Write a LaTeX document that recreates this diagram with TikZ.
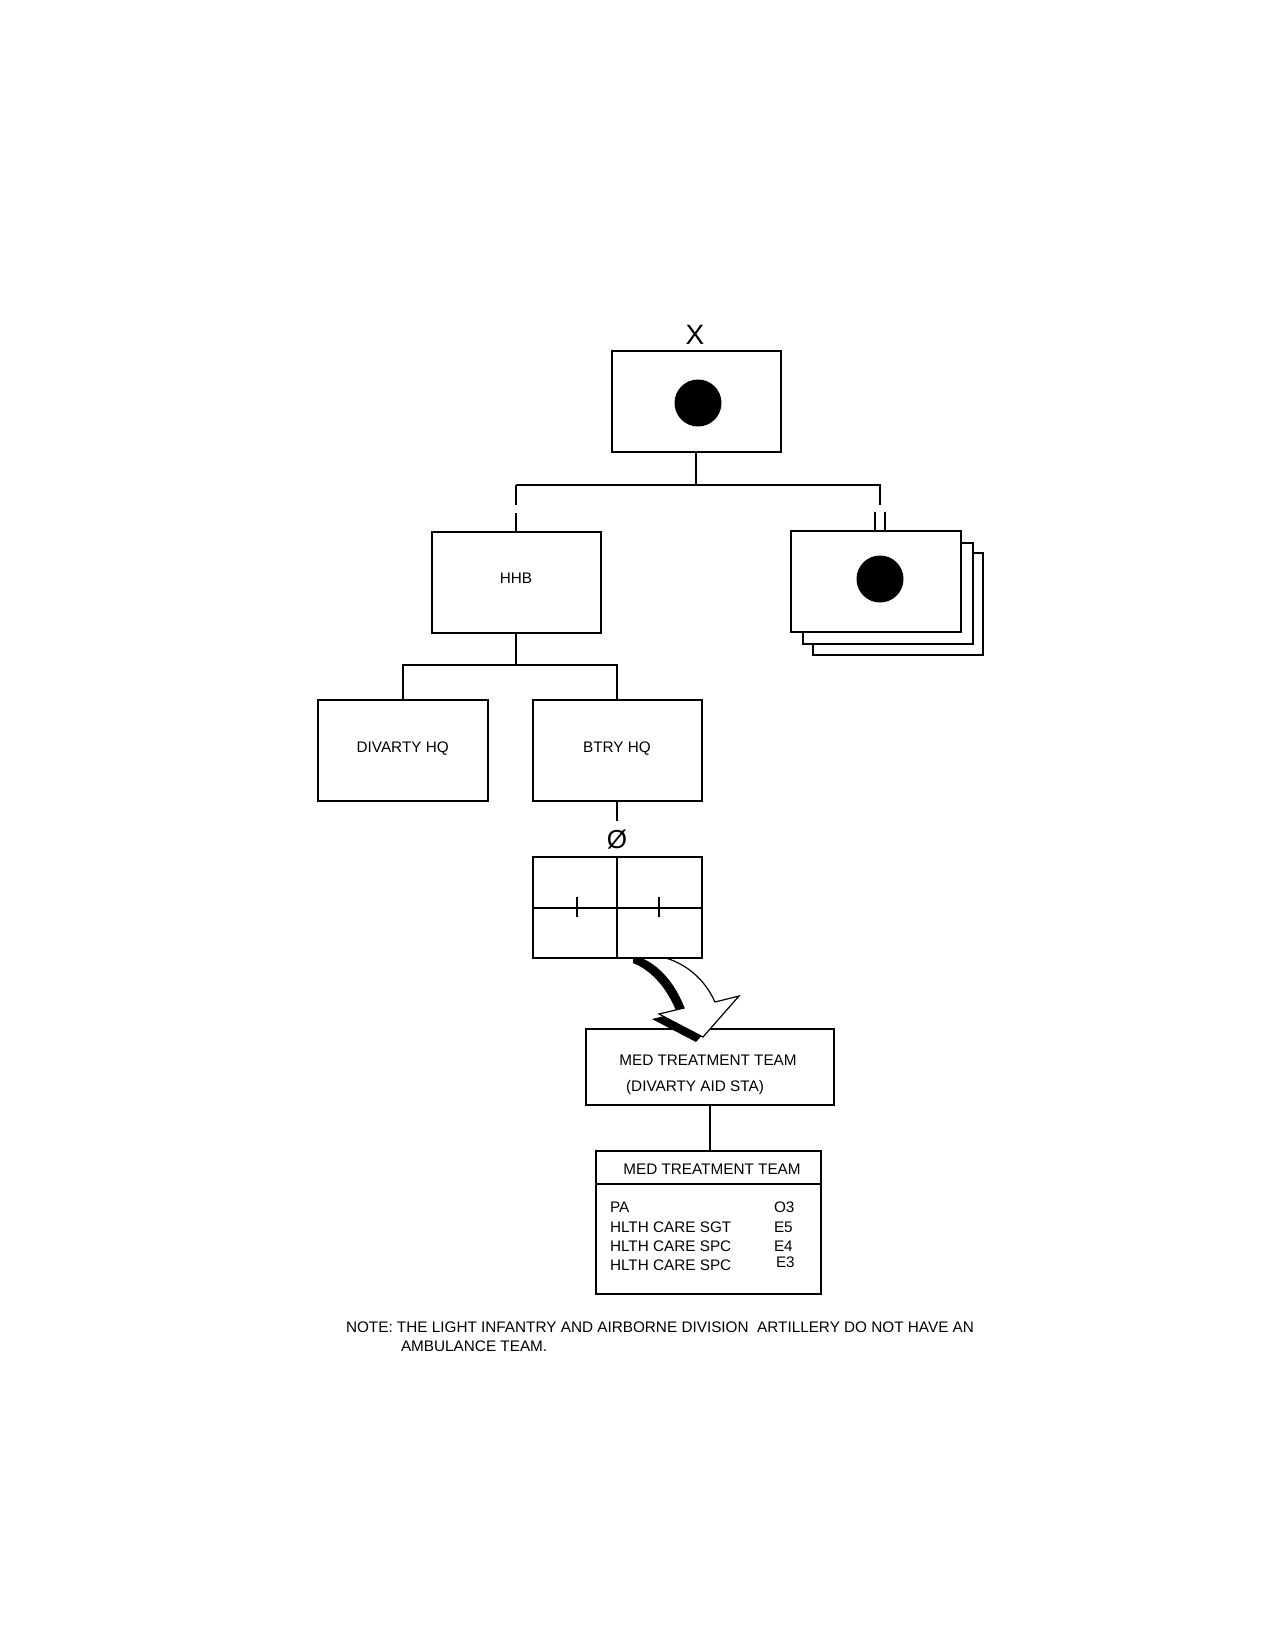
\documentclass[tikz,border=0pt]{standalone}
\usepackage{fontspec}
\setmainfont{Liberation Sans}
\newcommand\lbltext{\fontsize{7.65}{9}\selectfont}

\begin{document}
\begin{tikzpicture}[x = 0.5pt, y = -0.5pt, line width = 1pt,
  box/.style = {draw, rectangle, inner sep = 0pt, outer sep = 0pt, minimum width = 84.5pt, minimum height = 50.5pt, text height = 5.4pt, text depth = 3pt, font = \lbltext},
  dot/.style = {circle, fill, inner sep = 0pt, minimum size = 23.5pt},
  lbl/.style = {inner sep = 0pt, text height = 5.4pt, text depth = 0pt, font = \lbltext}]
\useasboundingbox (0, 0) rectangle (1281, 1650);
%\draw[very thin, color = gray](0, 0) grid[step = 100] (1281, 1650);

% brigade
\node [box] (bde) at (696, 401.5) {};
\node [dot] (bdedot) at (698, 403) {};
\node [inner sep = 0pt, font = \fontsize{14}{14}\selectfont] (bdex) at (695, 335) {X};

% battalions
\node [box, minimum width = 85pt, minimum height = 51pt] (bn3) at (898, 604) {};
\node [box, fill = white, minimum width = 85pt] (bn2) at (888, 593.4) {};
\node [box, fill = white, minimum width = 85pt] (bn) at (876, 581.5) {};
\node [dot] (bndot) at (880, 579) {};

% hhb and below
\node [box, text depth = 4pt] (hhb) at (516, 582.3) {HHB};
\node [box, minimum width = 85pt] (divarty) at (402.7, 750.5) {DIVARTY HQ};
\node [box] (btry) at (617, 750) {BTRY HQ};
\node [inner sep = 4pt, font = \fontsize{13}{13}\selectfont] (zero) at (617, 840) {Ø};

% med team
\node [box, minimum width = 124pt, minimum height = 38pt] (med) at (710, 1067) {};
\node [lbl] (medtop) at (708, 1060) {MED TREATMENT TEAM};
\node [lbl] (medsub) at (695, 1086) {(DIVARTY AID STA)};

% arrow into med team
\fill [shift = {(-7, 5)}] (640, 945) -- (640, 958) .. controls (660, 966) and (675, 985) .. (684, 1008) -- (659, 1014) -- (703, 1037) -- (739, 996) -- (715, 1002) .. controls (705, 980) and (688, 965) .. (666, 958) -- (666, 945) -- cycle;
\draw [fill = white, line width = 0.6pt] (640, 945) -- (640, 958) .. controls (660, 966) and (675, 985) .. (684, 1008) -- (659, 1014) -- (703, 1037) -- (739, 996) -- (715, 1002) .. controls (705, 980) and (688, 965) .. (666, 958) -- (666, 945) -- cycle;

% treatment section
\node [box, fill = white] (mix) at (617, 907.5) {};
\draw (mix.north) -- (mix.south);
\draw (mix.west) -- (mix.east);
\draw (577, 897) -- (577, 917);
\draw (659, 897) -- (659, 917);

% team table
\node [box, minimum width = 112.5pt, minimum height = 71.5pt] (tbl) at (708.4, 1222.5) {};
\draw (tbl.west |- 0, 1184) -- (tbl.east |- 0, 1184);
\node [lbl] (tblhead) at (712, 1169) {MED TREATMENT TEAM};
\node [lbl, anchor = west] (pa) at (609, 1206.7) {PA};
\node [lbl, anchor = west] (sgt) at (609, 1227) {HLTH CARE SGT};
\node [lbl, anchor = west] (spca) at (609, 1246) {HLTH CARE SPC};
\node [lbl, anchor = west] (spcb) at (609, 1265) {HLTH CARE SPC};
\node [lbl, anchor = west] (pagr) at (773, 1206.7) {O3};
\node [lbl, anchor = west] (sgtgr) at (773, 1227) {E5};
\node [lbl, anchor = west] (spcagr) at (773, 1246) {E4};
\node [lbl, anchor = west] (spcbgr) at (775, 1262.5) {E3};

% connectors
\coordinate (topbus) at (696, 485);
\coordinate (hhbbus) at (516, 665);
\draw (bde.south) -- (topbus);
\draw (hhb.north |- topbus) -- (bndot |- topbus) -- ++(0, 19.5);
\draw (hhb.north |- topbus) -- ++(0, 19.5);
\draw (hhb.north) -- ++(0, -18.5);
\draw (bndot |- bn.north) ++(-5, 0) -- ++(0, -19);
\draw (bndot |- bn.north) ++(5, 0) -- ++(0, -19);
\draw (hhb.south) -- (hhbbus);
\draw (divarty.north) |- (hhbbus) -| (btry.north);
\draw (btry.south) -- (zero.north);
\draw (med.south) -- (med.south |- tbl.north);

% note
\node [lbl, anchor = west] (note) at (345, 1327) {NOTE: THE LIGHT INFANTRY AND AIRBORNE DIVISION\ \ ARTILLERY DO NOT HAVE AN};
\node [lbl, anchor = west] (notecont) at (400, 1346) {AMBULANCE TEAM.};
\end{tikzpicture}
\end{document}
